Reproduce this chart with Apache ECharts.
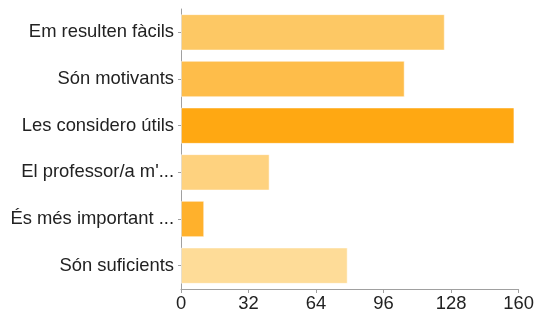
<!DOCTYPE html>
<html>
<head>
<meta charset="utf-8">
<script src="https://cdn.jsdelivr.net/npm/echarts@6/dist/echarts.min.js"></script>
<style>
  html, body { margin: 0; padding: 0; background: #fff; }
  #chart { width: 537px; height: 318px; }
</style>
</head>
<body>
<div id="chart"></div>
<script>
// dades del gràfic (de dalt a baix)
const categories = ['Em resulten fàcils', 'Són motivants', 'Les considero útils', "El professor/a m'...", 'És més important ...', 'Són suficients'];
const values = [125, 106, 158, 42, 11, 79];
const barColors = ['#fdc864', '#febd4a', '#ffa812', '#fed27f', '#ffb12c', '#fedc98'];
const xTicks = [0, 32, 64, 96, 128, 160];

const chart = echarts.init(document.getElementById('chart'), null, { renderer: 'canvas' });

// eix de categories invertit perquè el primer quedi a dalt
const data = values.map((v, i) => ({
  value: v,
  itemStyle: { color: barColors[i] }
}));

chart.setOption({
  animation: false,
  grid: { left: 181, right: 16, top: 9, bottom: 29 },
  xAxis: {
    type: 'value',
    min: xTicks[0],
    max: xTicks[xTicks.length - 1],
    interval: 32,
    axisLine: { show: true, lineStyle: { color: '#a0a0a0', width: 1 } },
    axisTick: { show: true, length: 4, lineStyle: { color: '#a0a0a0' } },
    axisLabel: { color: '#222', fontSize: 18.4, fontFamily: 'Liberation Sans, Arial', margin: 6 },
    splitLine: { show: false }
  },
  yAxis: {
    type: 'category',
    inverse: true,
    data: categories,
    axisLine: { show: true, lineStyle: { color: '#a0a0a0', width: 1 } },
    axisTick: { show: true, length: 3, alignWithLabel: true, lineStyle: { color: '#a0a0a0' } },
    axisLabel: { color: '#222', fontSize: 18.4, fontFamily: 'Liberation Sans, Arial', margin: 7, padding: [3, 0, 0, 0] }
  },
  series: [{
    type: 'bar',
    data: data,
    barCategoryGap: '22%',
    itemStyle: { borderColor: 'rgba(255,255,255,0.5)', borderWidth: 1 }
  }]
});
</script>
</body>
</html>
